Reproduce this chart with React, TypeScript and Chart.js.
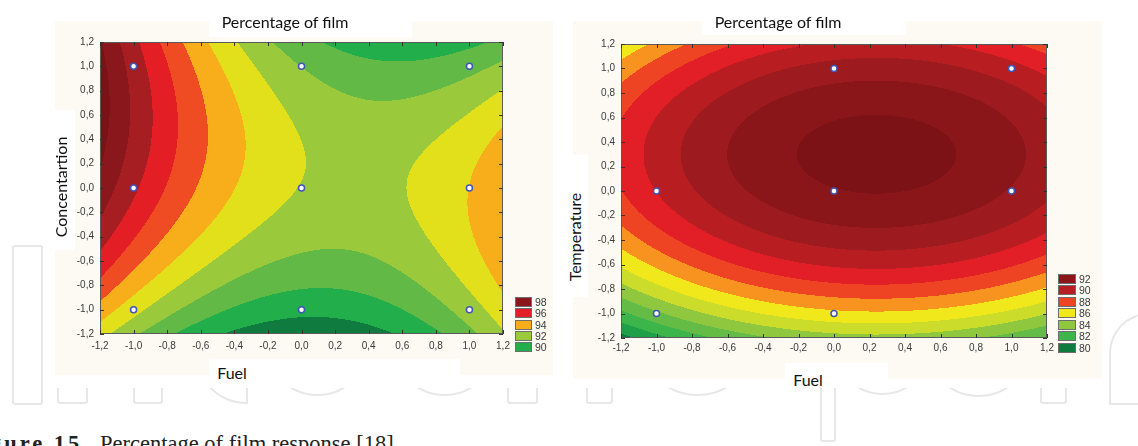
import React, { useEffect, useRef } from 'react';
import { Chart, registerables } from 'chart.js';

Chart.register(...registerables);

// ---------- data ----------
const tickValues = [-1.2, -1.0, -0.8, -0.6, -0.4, -0.2, 0, 0.2, 0.4, 0.6, 0.8, 1.0, 1.2];

// surface grid nodes (Fuel on x, second factor on y; rows listed top y=1.2 to bottom y=-1.2)
const gridX = [-1.2, -0.8, -0.4, 0, 0.4, 0.8, 1.2];
const gridY = [1.2, 0.8, 0.4, 0, -0.4, -0.8, -1.2];

// Percentage of film vs Fuel / Concentartion
const concentrationSurface = [
  [99.1, 95.67, 93.09, 91.36, 90.48, 90.44, 91.25],
  [99.49, 96.3, 93.95, 92.46, 91.81, 92.01, 93.06],
  [99.35, 96.38, 94.27, 92.99, 92.57, 93.0, 94.27],
  [98.68, 95.93, 94.02, 92.96, 92.75, 93.38, 94.87],
  [97.47, 94.91, 93.2, 92.34, 92.32, 93.16, 94.84],
  [95.71, 93.33, 91.8, 91.12, 91.29, 92.31, 94.17],
  [93.38, 91.18, 89.82, 89.31, 89.64, 90.83, 92.86],
];

// Percentage of film vs Fuel / Temperature
const temperatureSurface = [
  [86.16, 88.12, 89.45, 90.14, 90.21, 89.64, 88.44],
  [88.34, 90.29, 91.62, 92.32, 92.38, 91.81, 90.61],
  [89.27, 91.23, 92.55, 93.25, 93.31, 92.74, 91.54],
  [88.96, 90.92, 92.24, 92.94, 93.0, 92.43, 91.23],
  [87.4, 89.36, 90.69, 91.39, 91.45, 90.88, 89.68],
  [84.61, 86.57, 87.9, 88.59, 88.65, 88.09, 86.89],
  [80.58, 82.53, 83.86, 84.56, 84.62, 84.05, 82.85],
];

const concentrationLevels = [90, 91, 92, 93, 94, 95, 96, 97, 98, 99];
const concentrationColors = [
  '#0f7b3f', '#22ae4b', '#62b946', '#9aca3c', '#e1e01b', '#f8ad1a',
  '#ef4c24', '#e31e25', '#a61d22', '#8a171b', '#7a1316',
];
const temperatureLevels = [81, 82, 83, 84, 85, 86, 87, 88, 89, 90, 91, 92, 93];
const temperatureColors = [
  '#0e7a3d', '#1f9f48', '#3cb54a', '#64bc46', '#8fc73e', '#cbdc2a', '#f1e81b',
  '#f7931e', '#ee4424', '#e21e26', '#b81d22', '#9d1a1e', '#8a1619', '#7d1216',
];

const concentrationLegend = [98, 96, 94, 92, 90];
const temperatureLegend = [92, 90, 88, 86, 84, 82, 80];

const concPointsX = [-1, 0, 1, -1, 0, 1, -1, 0, 1];
const concPointsY = [1, 1, 1, 0, 0, 0, -1, -1, -1];
const tempPointsX = [0, 1, -1, 0, 1, -1, 0];
const tempPointsY = [1, 1, 0, 0, 0, -1, -1];

// ---------- helpers ----------
function hexToRgb(h: string) {
  const v = parseInt(h.slice(1), 16);
  return [(v >> 16) & 255, (v >> 8) & 255, v & 255];
}

function extend(grid: number[][]) {
  const rows = grid.map((r) => {
    const n = r.length;
    return [3 * r[0] - 3 * r[1] + r[2], ...r, 3 * r[n - 1] - 3 * r[n - 2] + r[n - 3]];
  });
  const n = rows.length;
  const first = rows[0].map((_, c) => 3 * rows[0][c] - 3 * rows[1][c] + rows[2][c]);
  const last = rows[0].map((_, c) => 3 * rows[n - 1][c] - 3 * rows[n - 2][c] + rows[n - 3][c]);
  return [first, ...rows, last];
}

function crWeights(t: number) {
  const t2 = t * t;
  const t3 = t2 * t;
  return [(-t3 + 2 * t2 - t) / 2, (3 * t3 - 5 * t2 + 2) / 2, (-3 * t3 + 4 * t2 + t) / 2, (t3 - t2) / 2];
}

function fmt(v: number) {
  const n = Number(v);
  if (Math.abs(n) < 1e-9) return '0,0';
  return n.toFixed(1).replace('.', ',');
}

function contourPlugin(grid: number[][], levels: number[], colors: string[]) {
  const ext = extend(grid);
  const rgb = colors.map(hexToRgb);
  return {
    id: 'contour',
    beforeDatasetsDraw(chart: any) {
      const { ctx, chartArea, scales } = chart;
      const xs = scales.x;
      const ys = scales.y;
      const left = Math.round(chartArea.left);
      const top = Math.round(chartArea.top);
      const w = Math.round(chartArea.right) - left;
      const h = Math.round(chartArea.bottom) - top;
      const off = document.createElement('canvas');
      off.width = w;
      off.height = h;
      const octx = off.getContext('2d')!;
      const img = octx.createImageData(w, h);
      const data = img.data;
      const m = gridX.length;
      const n = gridY.length;
      const dx = gridX[1] - gridX[0];
      const dy = gridY[1] - gridY[0];
      const colI: number[] = [];
      const colW: number[][] = [];
      for (let px = 0; px < w; px++) {
        const xv = xs.getValueForPixel(left + px + 0.5);
        const u = (xv - gridX[0]) / dx;
        let i = Math.floor(u);
        i = Math.max(0, Math.min(m - 2, i));
        colI.push(i);
        colW.push(crWeights(u - i));
      }
      for (let py = 0; py < h; py++) {
        const yv = ys.getValueForPixel(top + py + 0.5);
        const v = (yv - gridY[0]) / dy;
        let j = Math.floor(v);
        j = Math.max(0, Math.min(n - 2, j));
        const wy = crWeights(v - j);
        for (let px = 0; px < w; px++) {
          const i = colI[px];
          const wx = colW[px];
          let z = 0;
          for (let a = 0; a < 4; a++) {
            const row = ext[j + a];
            z += wy[a] * (wx[0] * row[i] + wx[1] * row[i + 1] + wx[2] * row[i + 2] + wx[3] * row[i + 3]);
          }
          let k = 0;
          while (k < levels.length && z >= levels[k]) k++;
          const c = rgb[k];
          const idx = (py * w + px) * 4;
          data[idx] = c[0];
          data[idx + 1] = c[1];
          data[idx + 2] = c[2];
          data[idx + 3] = 255;
        }
      }
      octx.putImageData(img, 0, 0);
      ctx.save();
      ctx.drawImage(off, left, top);
      ctx.strokeStyle = '#5a5a5a';
      ctx.lineWidth = 1;
      ctx.strokeRect(left + 0.5, top + 0.5, w - 1, h - 1);
      ctx.beginPath();
      for (const t of tickValues) {
        const px = Math.round(xs.getPixelForValue(t)) + 0.5;
        ctx.moveTo(px, top);
        ctx.lineTo(px, top + 4);
        ctx.moveTo(px, top + h);
        ctx.lineTo(px, top + h - 4);
        const py = Math.round(ys.getPixelForValue(t)) + 0.5;
        ctx.moveTo(left, py);
        ctx.lineTo(left + 4, py);
        ctx.moveTo(left + w, py);
        ctx.lineTo(left + w - 4, py);
      }
      ctx.strokeStyle = '#333333';
      ctx.stroke();
      ctx.restore();
    },
  };
}

const tickFont = { family: "'Liberation Sans', Arial, sans-serif", size: 10 };

type ChartProps = {
  box: { left: number; top: number; width: number; height: number };
  padTop: number;
  padRight: number;
  yWidth: number;
  xHeight: number;
  xPad: number;
  yPad: number;
  grid: number[][];
  levels: number[];
  colors: string[];
  pointsX: number[];
  pointsY: number[];
};

function ContourChart(p: ChartProps) {
  const ref = useRef<HTMLCanvasElement>(null);
  useEffect(() => {
    const points = p.pointsX.map((x, i) => ({ x, y: p.pointsY[i] }));
    const scaleBase = (isX: boolean) => ({
      type: 'linear' as const,
      min: -1.2,
      max: 1.2,
      afterBuildTicks: (s: any) => {
        s.ticks = tickValues.map((v) => ({ value: v }));
      },
      afterFit: (s: any) => {
        if (isX) s.height = p.xHeight;
        else s.width = p.yWidth;
      },
      grid: { display: false, drawTicks: false },
      border: { display: false },
      ticks: {
        font: tickFont,
        color: '#3a3a3a',
        padding: isX ? p.xPad : p.yPad,
        maxRotation: 0,
        autoSkip: false,
        callback: (v: any) => fmt(v),
      },
    });
    const chart = new Chart(ref.current!, {
      type: 'scatter',
      data: {
        datasets: [
          {
            data: points,
            pointRadius: 3,
            pointBackgroundColor: '#ffffff',
            pointBorderColor: '#3f55b8',
            pointBorderWidth: 1.5,
          },
        ],
      },
      options: {
        animation: false,
        responsive: false,
        events: [],
        layout: { padding: { top: p.padTop, right: p.padRight, left: 0, bottom: 0 } },
        plugins: { legend: { display: false }, tooltip: { enabled: false } },
        scales: { x: scaleBase(true), y: scaleBase(false) } as any,
      },
      plugins: [contourPlugin(p.grid, p.levels, p.colors)],
    });
    return () => chart.destroy();
  }, []);
  return (
    <canvas
      ref={ref}
      width={p.box.width}
      height={p.box.height}
      style={{ position: 'absolute', left: p.box.left, top: p.box.top, width: p.box.width, height: p.box.height }}
    />
  );
}

const abs = (o: any) => ({ position: 'absolute' as const, ...o });
const titleFont = "Lato, 'Open Sans', sans-serif";
const wm = '2px solid #e7e7e7';

function Legend({ items, levels, colors, left, top, step, width, labelLeft }: any) {
  return (
    <>
      {items.map((v: number, i: number) => {
        const color = colors[levels.indexOf(v) + 1];
        const t = top + i * step;
        return (
          <React.Fragment key={v}>
            <div
              style={abs({
                left,
                top: t,
                width,
                height: 10,
                background: color,
                border: '1px solid #6e6e6e',
                boxSizing: 'border-box',
              })}
            />
            <div
              style={abs({
                left: labelLeft,
                top: t - 1,
                lineHeight: '12px',
                fontSize: 10.5,
                fontFamily: "'Liberation Sans', Arial, sans-serif",
                color: '#3a3a3a',
              })}
            >
              {v}
            </div>
          </React.Fragment>
        );
      })}
    </>
  );
}

const serif = "'Liberation Serif', 'Times New Roman', serif";

export default function App() {
  return (
    <div style={abs({ left: 0, top: 0, width: 1138, height: 446, background: '#ffffff', overflow: 'hidden' })}>
      {/* watermark */}
      <div style={abs({ left: 12, top: 245, width: 31, height: 160, border: wm, borderRadius: 3, boxSizing: 'border-box' })} />
      <div style={abs({ left: 1109, top: 313, width: 80, height: 92, borderLeft: wm, borderTop: wm, borderBottom: wm, borderTopLeftRadius: 40, boxSizing: 'border-box' })} />
      <div style={abs({ left: 0, top: 388, width: 1138, height: 58, overflow: 'hidden' })}>
        <div style={abs({ left: 57, top: -60, width: 31, height: 76, border: wm, borderRadius: 3, boxSizing: 'border-box' })} />
        <div style={abs({ left: 133, top: -60, width: 30, height: 76, border: wm, borderRadius: 3, boxSizing: 'border-box' })} />
        <div style={abs({ left: 196, top: -80, width: 52, height: 96, borderLeft: wm, borderBottom: wm, borderRight: wm, borderBottomLeftRadius: 50, boxSizing: 'border-box' })} />
        <div style={abs({ left: 266, top: -95, width: 103, height: 103, border: wm, borderRadius: '50%', boxSizing: 'border-box' })} />
        <div style={abs({ left: 393, top: -95, width: 103, height: 103, border: wm, borderRadius: '50%', boxSizing: 'border-box' })} />
        <div style={abs({ left: 507, top: -60, width: 31, height: 76, border: wm, borderRadius: 3, boxSizing: 'border-box' })} />
        <div style={abs({ left: 586, top: -60, width: 27, height: 76, border: wm, borderRadius: 3, boxSizing: 'border-box' })} />
        <div style={abs({ left: 639, top: -109, width: 117, height: 117, border: wm, borderRadius: '50%', boxSizing: 'border-box' })} />
        <div style={abs({ left: 820, top: -60, width: 16, height: 114, border: wm, borderRadius: 3, boxSizing: 'border-box' })} />
        <div style={abs({ left: 835, top: -88, width: 95, height: 95, border: wm, borderRadius: '50%', boxSizing: 'border-box' })} />
        <div style={abs({ left: 925, top: -98, width: 107, height: 107, border: wm, borderRadius: '50%', boxSizing: 'border-box' })} />
        <div style={abs({ left: 1040, top: -60, width: 27, height: 76, border: wm, borderRadius: 3, boxSizing: 'border-box' })} />
      </div>

      {/* panel backgrounds */}
      <div style={abs({ left: 55, top: 21, width: 498, height: 354, background: '#fcfaf2' })} />
      <div style={abs({ left: 573, top: 21, width: 529, height: 357, background: '#fcfaf2' })} />
      <div style={abs({ left: 209, top: 21, width: 203, height: 16, background: '#ffffff' })} />
      <div style={abs({ left: 702, top: 21, width: 204, height: 14, background: '#ffffff' })} />
      <div style={abs({ left: 48, top: 110, width: 27, height: 140, background: '#ffffff' })} />
      <div style={abs({ left: 560, top: 155, width: 28, height: 142, background: '#ffffff' })} />
      <div style={abs({ left: 209, top: 359, width: 251, height: 28, background: '#ffffff' })} />
      <div style={abs({ left: 785, top: 363, width: 103, height: 25, background: '#ffffff' })} />

      {/* charts */}
      <ContourChart
        box={{ left: 60, top: 30, width: 500, height: 330 }}
        padTop={12}
        padRight={57}
        yWidth={40}
        xHeight={26}
        xPad={6}
        yPad={6}
        grid={concentrationSurface}
        levels={concentrationLevels}
        colors={concentrationColors}
        pointsX={concPointsX}
        pointsY={concPointsY}
      />
      <ContourChart
        box={{ left: 585, top: 30, width: 525, height: 335 }}
        padTop={14}
        padRight={63}
        yWidth={36}
        xHeight={27}
        xPad={4}
        yPad={6}
        grid={temperatureSurface}
        levels={temperatureLevels}
        colors={temperatureColors}
        pointsX={tempPointsX}
        pointsY={tempPointsY}
      />

      {/* titles */}
      <div style={abs({ left: 185, top: 12, width: 200, textAlign: 'center', lineHeight: '20px', fontSize: 16, fontFamily: titleFont, color: '#111' })}>
        Percentage of film
      </div>
      <div style={abs({ left: 678, top: 12, width: 200, textAlign: 'center', lineHeight: '20px', fontSize: 16, fontFamily: titleFont, color: '#111' })}>
        Percentage of film
      </div>
      <div style={abs({ left: 182, top: 363, width: 100, textAlign: 'center', lineHeight: '20px', fontSize: 16, fontFamily: titleFont, color: '#111' })}>
        Fuel
      </div>
      <div style={abs({ left: 758, top: 370, width: 100, textAlign: 'center', lineHeight: '20px', fontSize: 16, fontFamily: titleFont, color: '#111' })}>
        Fuel
      </div>
      <div style={abs({ left: -19, top: 177, width: 160, textAlign: 'center', lineHeight: '20px', fontSize: 16, fontFamily: titleFont, color: '#111', transform: 'rotate(-90deg)' })}>
        Concentartion
      </div>
      <div style={abs({ left: 495, top: 227, width: 160, textAlign: 'center', lineHeight: '20px', fontSize: 16, fontFamily: titleFont, color: '#111', transform: 'rotate(-90deg)' })}>
        Temperature
      </div>

      {/* legends */}
      <Legend items={concentrationLegend} levels={concentrationLevels} colors={concentrationColors} left={515} top={297} step={11.3} width={17} labelLeft={535} />
      <Legend items={temperatureLegend} levels={temperatureLevels} colors={temperatureColors} left={1058} top={274} step={11.45} width={18} labelLeft={1079} />

      {/* caption */}
      <div style={abs({ right: 1047, top: 431, fontSize: 22.5, letterSpacing: 3, whiteSpace: 'nowrap', fontFamily: serif, fontWeight: 'bold', color: '#222' })}>
        Figure 15.
      </div>
      <div style={abs({ left: 100, top: 431, fontSize: 22.5, whiteSpace: 'nowrap', fontFamily: serif, color: '#222' })}>
        Percentage of film response [18].
      </div>
    </div>
  );
}
